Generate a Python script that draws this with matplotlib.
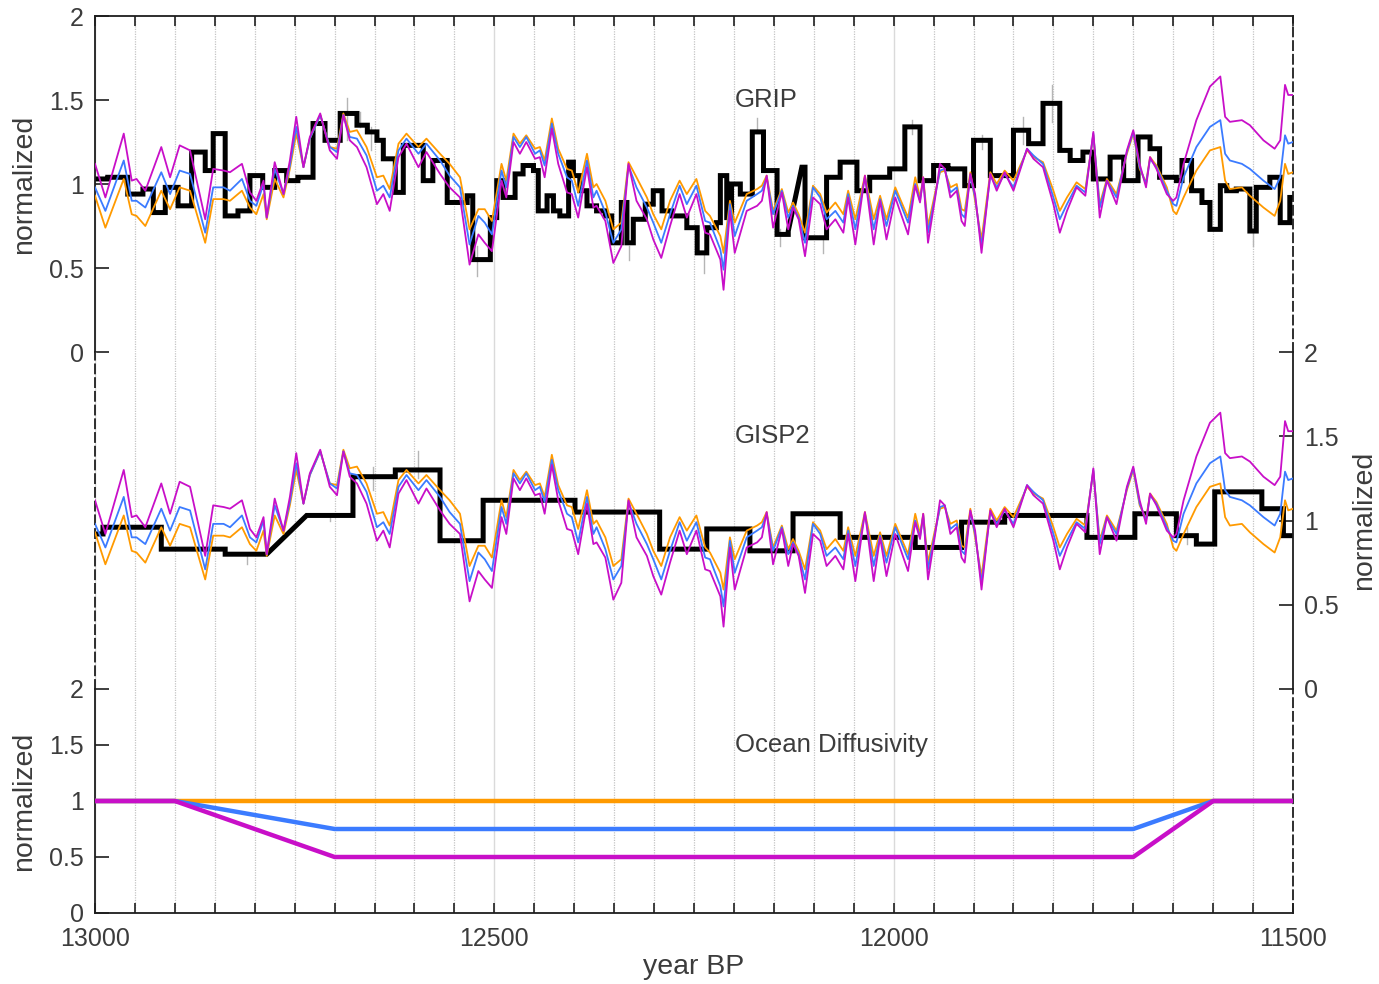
import matplotlib
matplotlib.use('Agg')
import matplotlib.pyplot as plt
from matplotlib.ticker import MultipleLocator, FixedLocator

plt.rcParams['font.family'] = ['Liberation Sans', 'DejaVu Sans']

# --- model output (same curves in the GRIP and GISP2 panels) ---
yrs = [13000, 12987, 12964, 12954, 12948, 12937, 12917, 12906, 12894, 12881,
       12862, 12852, 12839, 12831, 12816, 12806, 12798, 12789, 12785, 12775,
       12764, 12756, 12748, 12739, 12731, 12718, 12706, 12697, 12689, 12681,
       12672, 12660, 12647, 12639, 12631, 12620, 12610, 12595, 12585, 12568,
       12556, 12543, 12531, 12520, 12512, 12503,
       12491, 12485, 12476, 12468, 12460, 12449, 12443, 12437, 12428, 12420,
       12409, 12403, 12395, 12384, 12376, 12372, 12361, 12351, 12341, 12332,
       12322, 12309, 12301, 12291, 12280, 12268, 12259, 12247, 12236, 12230,
       12217, 12213, 12205, 12199, 12184, 12171, 12165, 12159, 12151, 12140,
       12132, 12126, 12119, 12111, 12101, 12092, 12084, 12073, 12063, 12057,
       12048, 12036, 12025, 12017, 12009, 11998,
       11982, 11973, 11967, 11963, 11957, 11948, 11942, 11936, 11929, 11921,
       11915, 11911, 11904, 11898, 11890, 11879, 11871, 11861, 11850, 11833,
       11825, 11813, 11800, 11792, 11783, 11771, 11760, 11750, 11742, 11733,
       11721, 11708, 11700, 11692, 11684, 11679, 11671, 11658, 11650, 11646,
       11637, 11621, 11604, 11591, 11585, 11579, 11564, 11554, 11537, 11523,
       11516, 11510, 11506, 11500]

mag = [1.12, 0.92, 1.30, 1.02, 1.03, 0.96, 1.22, 1.04, 1.23, 1.20,
       0.79, 1.09, 1.08, 1.07, 1.12, 0.95, 0.90, 1.02, 0.80, 1.13,
       0.94, 1.14, 1.40, 1.10, 1.28, 1.42, 1.20, 1.15, 1.41, 1.26,
       1.22, 1.10, 0.88, 0.94, 0.84, 1.16, 1.24, 1.10, 1.19, 1.06,
       0.98, 0.92, 0.52, 0.70, 0.65, 0.60,
       1.02, 0.92, 1.25, 1.18, 1.25, 1.15, 1.16, 1.04, 1.33, 1.12,
       0.95, 0.94, 0.80, 1.10, 0.86, 0.87, 0.78, 0.53, 0.63, 1.12,
       0.90, 0.79, 0.67, 0.56, 0.75, 0.94, 0.80, 0.94, 0.71, 0.70,
       0.55, 0.37, 0.84, 0.59, 0.84, 0.87, 0.90, 1.05, 0.74, 0.95,
       0.73, 0.86, 0.79, 0.57, 0.92, 0.88, 0.73, 0.79, 0.71, 0.92,
       0.64, 1.05, 0.64, 0.90, 0.67, 0.92,
       0.70, 0.99, 0.89, 1.04, 0.65, 0.92, 1.12, 1.09, 0.92, 0.96,
       0.78, 0.75, 1.06, 0.94, 0.59, 1.06, 0.96, 1.07, 0.96, 1.21,
       1.15, 1.10, 0.88, 0.71, 0.84, 0.98, 0.93, 1.31, 0.80, 1.02,
       0.88, 1.20, 1.32, 1.12, 0.98, 1.16, 1.09, 0.94, 0.90, 0.92,
       1.12, 1.38, 1.58, 1.64, 1.40, 1.37, 1.38, 1.35, 1.26, 1.21,
       1.26, 1.59, 1.53, 1.53]

blu = [0.98, 0.84, 1.14, 0.90, 0.90, 0.86, 1.07, 0.94, 1.08, 1.06,
       0.71, 0.98, 0.98, 0.96, 1.03, 0.90, 0.87, 1.00, 0.80, 1.09,
       0.94, 1.11, 1.34, 1.10, 1.27, 1.41, 1.22, 1.19, 1.41, 1.28,
       1.27, 1.17, 0.96, 0.99, 0.92, 1.20, 1.27, 1.18, 1.24, 1.14,
       1.05, 0.98, 0.64, 0.81, 0.77, 0.70,
       1.08, 0.98, 1.28, 1.22, 1.28, 1.18, 1.20, 1.11, 1.36, 1.18,
       1.04, 1.02, 0.87, 1.14, 0.92, 0.96, 0.83, 0.65, 0.73, 1.11,
       0.98, 0.86, 0.77, 0.65, 0.82, 0.99, 0.88, 0.99, 0.78, 0.77,
       0.61, 0.49, 0.88, 0.69, 0.90, 0.94, 0.96, 1.04, 0.82, 0.96,
       0.80, 0.87, 0.80, 0.65, 0.98, 0.92, 0.79, 0.84, 0.77, 0.94,
       0.73, 1.04, 0.73, 0.91, 0.75, 0.96,
       0.77, 1.00, 0.90, 1.03, 0.71, 0.93, 1.08, 1.09, 0.95, 0.98,
       0.82, 0.80, 1.05, 0.92, 0.63, 1.05, 0.98, 1.06, 0.98, 1.21,
       1.17, 1.12, 0.92, 0.79, 0.88, 0.99, 0.95, 1.30, 0.86, 1.02,
       0.92, 1.19, 1.31, 1.10, 1.00, 1.15, 1.10, 0.96, 0.88, 0.87,
       1.04, 1.22, 1.34, 1.38, 1.18, 1.14, 1.12, 1.09, 1.02, 0.97,
       1.04, 1.29, 1.24, 1.25]

org = [0.93, 0.74, 1.03, 0.82, 0.81, 0.75, 0.96, 0.85, 0.98, 0.96,
       0.65, 0.91, 0.91, 0.90, 0.96, 0.86, 0.82, 0.94, 0.79, 1.03,
       0.92, 1.09, 1.30, 1.10, 1.27, 1.41, 1.22, 1.21, 1.42, 1.31,
       1.32, 1.22, 1.04, 1.05, 0.97, 1.24, 1.30, 1.22, 1.27, 1.18,
       1.12, 1.04, 0.73, 0.85, 0.85, 0.78,
       1.12, 1.02, 1.30, 1.24, 1.29, 1.21, 1.22, 1.14, 1.39, 1.21,
       1.09, 1.08, 0.95, 1.18, 0.98, 1.00, 0.90, 0.73, 0.77, 1.13,
       1.04, 0.92, 0.82, 0.73, 0.90, 1.02, 0.94, 1.03, 0.84, 0.81,
       0.69, 0.59, 0.90, 0.77, 0.94, 0.97, 0.99, 1.05, 0.84, 0.97,
       0.83, 0.89, 0.82, 0.71, 0.99, 0.94, 0.83, 0.89, 0.82, 0.96,
       0.79, 1.05, 0.79, 0.93, 0.79, 0.98,
       0.80, 1.04, 0.92, 1.04, 0.75, 0.95, 1.07, 1.08, 0.98, 1.00,
       0.85, 0.84, 1.07, 0.90, 0.67, 1.07, 1.00, 1.08, 1.02, 1.20,
       1.16, 1.13, 0.96, 0.84, 0.92, 1.01, 0.97, 1.29, 0.88, 1.03,
       0.94, 1.18, 1.30, 1.09, 1.01, 1.16, 1.11, 0.98, 0.84, 0.82,
       0.92, 1.08, 1.20, 1.22, 1.02, 0.97, 0.98, 0.93, 0.86, 0.81,
       0.90, 1.12, 1.06, 1.07]

# --- ice core records (step edges + values, a tuple = linear ramp) ---
grip_edges = [13000, 12984, 12959, 12940, 12927, 12912, 12896, 12879, 12862, 12852,
              12837, 12821, 12806, 12790, 12775, 12760, 12746, 12727, 12712, 12693,
              12672, 12659, 12647, 12639, 12624, 12614, 12589, 12577, 12559, 12534,
              12527, 12505, 12497, 12489, 12474, 12464, 12451, 12445, 12434, 12426,
              12418, 12407, 12401, 12393, 12384, 12372, 12361, 12353, 12341, 12334,
              12326, 12311, 12301, 12290, 12278, 12259, 12246, 12234, 12222, 12217,
              12209, 12203, 12192, 12177, 12163, 12146, 12132, 12115, 12111, 12084,
              12067, 12046, 12030, 12005, 11986, 11967, 11950, 11932,
              11911, 11900, 11879, 11850, 11831, 11813, 11792, 11779, 11763, 11750,
              11729, 11712, 11694, 11679, 11667, 11646, 11639, 11627, 11614, 11604,
              11591, 11583, 11571, 11554, 11546, 11529, 11516, 11504, 11500]
grip_vals = [1.03, 1.04, 0.94, 0.97, 0.83, 0.98, 0.87, 1.19, 1.08, 1.30,
             0.81, 0.84, 1.05, 0.98, 1.08, 1.02, 1.04, 1.36, 1.26, 1.42,
             1.35, 1.31, 1.26, 1.15, 0.95, 1.23, 1.02, 1.14, 0.89, 0.93,
             0.55, 0.80, 1.02, 0.92, 1.06, 1.11, 1.08, 0.84, 0.93, 0.84,
             0.81, 1.13, 1.05, 0.96, 0.87, 0.84, 0.81, 0.65, 0.89, 0.65,
             0.79, 0.88, 0.96, 0.84, 0.81, 0.74, 0.59, 0.74, 0.77, 1.05,
             0.80, 1.00, 0.94, 1.31, 1.08, 0.70, (0.72, 1.10), 1.10, 0.68, 1.04,
             1.13, 0.96, 1.04, 1.09, 1.34, 1.02, 1.11, 1.09,
             0.99, 1.26, 1.05, 1.32, 1.24, 1.48, 1.20, 1.14, 1.19, 1.03,
             1.16, 1.02, 1.28, 1.21, 1.04, 1.02, 1.14, 0.96, 0.89, 0.73,
             0.99, 0.96, 0.97, 0.72, 0.98, 1.04, 0.77, 0.92]

gisp_edges = [13000, 12990, 12917, 12837, 12785, 12735, 12677, 12624, 12568, 12514,
              12399, 12293, 12234, 12180, 12126, 12067, 11973, 11915, 11861, 11758,
              11698, 11646, 11621, 11598, 11539, 11512, 11500]
gisp_vals = [0.92, 0.96, 0.83, 0.80, (0.80, 1.03), 1.03, 1.26, 1.30, 0.88, 1.12,
             1.05, 0.83, 0.95, 0.82, 1.04, 0.90, 0.84, 0.99, 1.03, 0.90,
             1.04, 0.91, 0.86, 1.17, 1.07, 0.91]

# error bars (year, low, high)
grip_err = [(12684, 1.26, 1.51), (12668, 1.34, 1.43), (12654, 1.20, 1.34),
            (12522, 0.45, 0.63), (12332, 0.55, 0.63), (12238, 0.47, 0.59),
            (12171, 1.31, 1.39), (12142, 0.63, 0.73), (12088, 0.59, 0.67),
            (11977, 1.30, 1.38), (11890, 1.21, 1.29), (11838, 1.24, 1.40),
            (11802, 1.37, 1.59), (11550, 0.63, 0.73)]
gisp_err = [(12810, 0.74, 0.80), (12706, 1.00, 1.04), (12652, 1.18, 1.32),
            (12595, 1.25, 1.41), (11633, 0.86, 0.96)]

# --- ocean diffusivity scenarios ---
diff_yrs = [13000, 12900, 12700, 11700, 11600, 11500]
diff_org = [1, 1, 1, 1, 1, 1]
diff_blu = [1, 1, 0.75, 0.75, 1, 1]
diff_mag = [1, 1, 0.5, 0.5, 1, 1]

C_ORG = '#ff9a00'
C_BLU = '#3b7bff'
C_MAG = '#c80fc8'
TXT = '#3c3c3c'
SPINE = '#1e1e1e'


def step_line(edges, vals):
    xs, ys = [], []
    for i, v in enumerate(vals):
        v0, v1 = v if isinstance(v, tuple) else (v, v)
        xs += [edges[i], edges[i + 1]]
        ys += [v0, v1]
    return xs, ys


W, H = 1379, 984
fig = plt.figure(figsize=(W / 100, H / 100), dpi=100)
L, R = 95 / W, 1293 / W


def fy(py):
    return 1 - py / H


ax_top = fig.add_axes([L, fy(352), R - L, fy(16) - fy(352)])
ax_mid = fig.add_axes([L, fy(689), R - L, fy(352) - fy(689)])
ax_bot = fig.add_axes([L, fy(913), R - L, fy(689) - fy(913)])

for ax in (ax_top, ax_mid, ax_bot):
    ax.set_xlim(13000, 11500)
    ax.set_ylim(0, 2)
    ax.patch.set_alpha(0)
    ax.xaxis.set_major_locator(FixedLocator([13000, 12500, 12000, 11500]))
    ax.xaxis.set_minor_locator(MultipleLocator(50))
    ax.grid(which='minor', axis='x', color='#c4c4c4', ls=(0, (1, 1)), lw=0.9)
    ax.grid(which='major', axis='x', color='#dadada', ls='-', lw=1.0)
    ax.set_axisbelow(True)
    ax.set_yticks([0, 0.5, 1, 1.5, 2])
    ax.set_yticklabels(['0', '0.5', '1', '1.5', '2'])
    ax.tick_params(axis='y', direction='in', length=10, width=1.2, pad=8,
                   labelsize=18, labelcolor=TXT, color=SPINE)
    ax.tick_params(axis='x', which='both', direction='in', length=7, width=1.2,
                   labelsize=18, labelcolor=TXT, color=SPINE, pad=10)
    for s in ax.spines.values():
        s.set_color(SPINE)
        s.set_linewidth(1.3)

# record panels
for ax, edges, vals, errs in ((ax_top, grip_edges, grip_vals, grip_err),
                              (ax_mid, gisp_edges, gisp_vals, gisp_err)):
    for yr, lo, hi in errs:
        ax.plot([yr, yr], [lo, hi], color='#b5b5b5', lw=1.0, zorder=1)
    sx, sy = step_line(edges, vals)
    ax.plot(sx, sy, color='black', lw=3.6, zorder=2, solid_joinstyle='miter')
    ax.plot(yrs, org, color=C_ORG, lw=1.3, zorder=3)
    ax.plot(yrs, blu, color=C_BLU, lw=1.3, zorder=4)
    ax.plot(yrs, mag, color=C_MAG, lw=1.3, zorder=5)

ax_bot.plot(diff_yrs, diff_org, color=C_ORG, lw=3.2, zorder=3)
ax_bot.plot(diff_yrs, diff_blu, color=C_BLU, lw=3.2, zorder=4)
ax_bot.plot(diff_yrs, diff_mag, color=C_MAG, lw=3.2, zorder=5)

dash = (0, (5, 2.6))

# top panel: GRIP
ax_top.spines['bottom'].set_visible(False)
ax_top.spines['right'].set_linestyle(dash)
ax_top.tick_params(axis='x', which='both', top=True, bottom=False,
                   labelbottom=False, labeltop=False)
ax_top.tick_params(axis='y', left=True, right=False)
ax_top.set_ylabel('normalized', fontsize=20.5, color=TXT, labelpad=9)
ax_top.text(12199, 1.5, 'GRIP', fontsize=18.5, color=TXT, ha='left', va='center')

# middle panel: GISP2
ax_mid.spines['top'].set_visible(False)
ax_mid.spines['bottom'].set_visible(False)
ax_mid.spines['left'].set_linestyle(dash)
ax_mid.tick_params(axis='x', which='both', top=False, bottom=False,
                   labelbottom=False)
ax_mid.tick_params(axis='y', left=False, right=True, labelleft=False,
                   labelright=True)
ax_mid.yaxis.set_label_position('right')
ax_mid.set_ylabel('normalized', fontsize=20.5, color=TXT, labelpad=9)
ax_mid.text(12199, 1.5, 'GISP2', fontsize=18.5, color=TXT, ha='left', va='center')

# bottom panel: ocean diffusivity
ax_bot.spines['top'].set_visible(False)
ax_bot.spines['right'].set_linestyle(dash)
ax_bot.tick_params(axis='x', which='both', top=False, bottom=True)
ax_bot.tick_params(axis='y', left=True, right=False)
ax_bot.set_ylabel('normalized', fontsize=20.5, color=TXT, labelpad=9)
ax_bot.set_xlabel('year BP', fontsize=20.5, color=TXT, labelpad=2)
ax_bot.text(12199, 1.5, 'Ocean Diffusivity', fontsize=18.5, color=TXT,
            ha='left', va='center')

fig.savefig('out.png', dpi=100)
